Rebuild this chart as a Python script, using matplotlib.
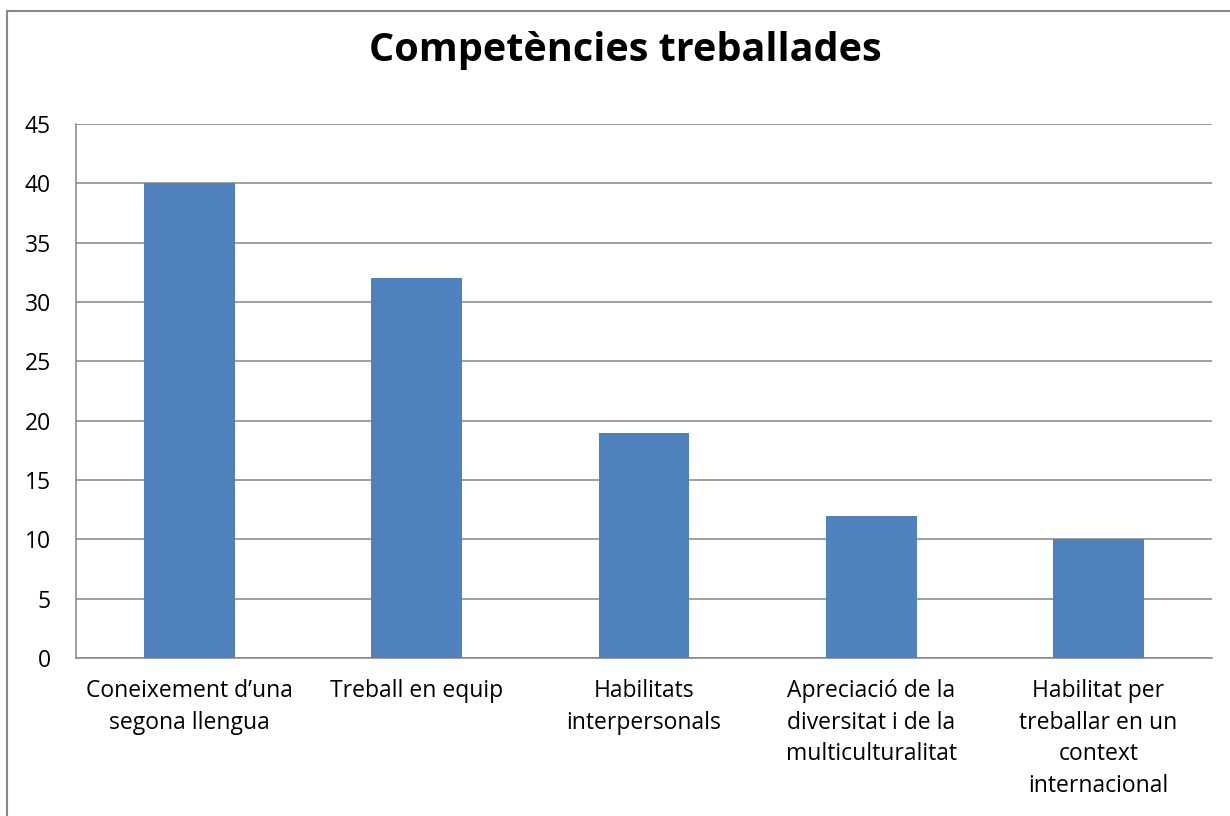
import matplotlib

matplotlib.use("Agg")
import matplotlib.pyplot as plt
from matplotlib.patches import Rectangle

categories = [
    "Coneixement d\u2019una\nsegona llengua",
    "Treball en equip",
    "Habilitats\ninterpersonals",
    "Apreciació de la\ndiversitat i de la\nmulticulturalitat",
    "Habilitat per\ntreballar en un\ncontext\ninternacional",
]
values = [40, 32, 19, 12, 10]
yticks = [0, 5, 10, 15, 20, 25, 30, 35, 40, 45]

plt.rcParams["font.family"] = ["Open Sans", "DejaVu Sans"]

fig = plt.figure(figsize=(12.3, 8.16), dpi=100)
ax = fig.add_axes([76 / 1230, 1 - 658 / 816, (1212 - 76) / 1230, (658 - 124) / 816])

x = range(len(categories))
ax.bar(x, values, width=0.4, color="#4F81BD", zorder=3)
ax.set_xlim(-0.5, len(categories) - 0.5)
ax.set_ylim(0, 45)
ax.set_yticks(yticks)
ax.set_xticks(list(x))
ax.set_xticklabels(categories, fontsize=16.5, linespacing=1.43, va="top")
ax.tick_params(axis="both", length=0, labelsize=16.5)
ax.tick_params(axis="x", pad=15)
ax.tick_params(axis="y", pad=18)
ax.grid(axis="y", color="#868686", linewidth=1.1, zorder=0)
for side in ["top", "right"]:
    ax.spines[side].set_visible(False)
for side in ["left", "bottom"]:
    ax.spines[side].set_color("#868686")
    ax.spines[side].set_linewidth(1.1)

fig.text(625 / 1230, 1 - 50 / 816, "Competències treballades", ha="center", va="center",
         fontsize=28.5, fontweight="bold")

# chart border (runs past the right and bottom edge in the reference)
fig.patches.append(Rectangle((6.5 / 1230, -0.05), 1.1, 1 - 11 / 816 + 0.05,
                             transform=fig.transFigure, fill=False,
                             edgecolor="#888888", linewidth=1.5))

fig.savefig("out.png", dpi=100)
